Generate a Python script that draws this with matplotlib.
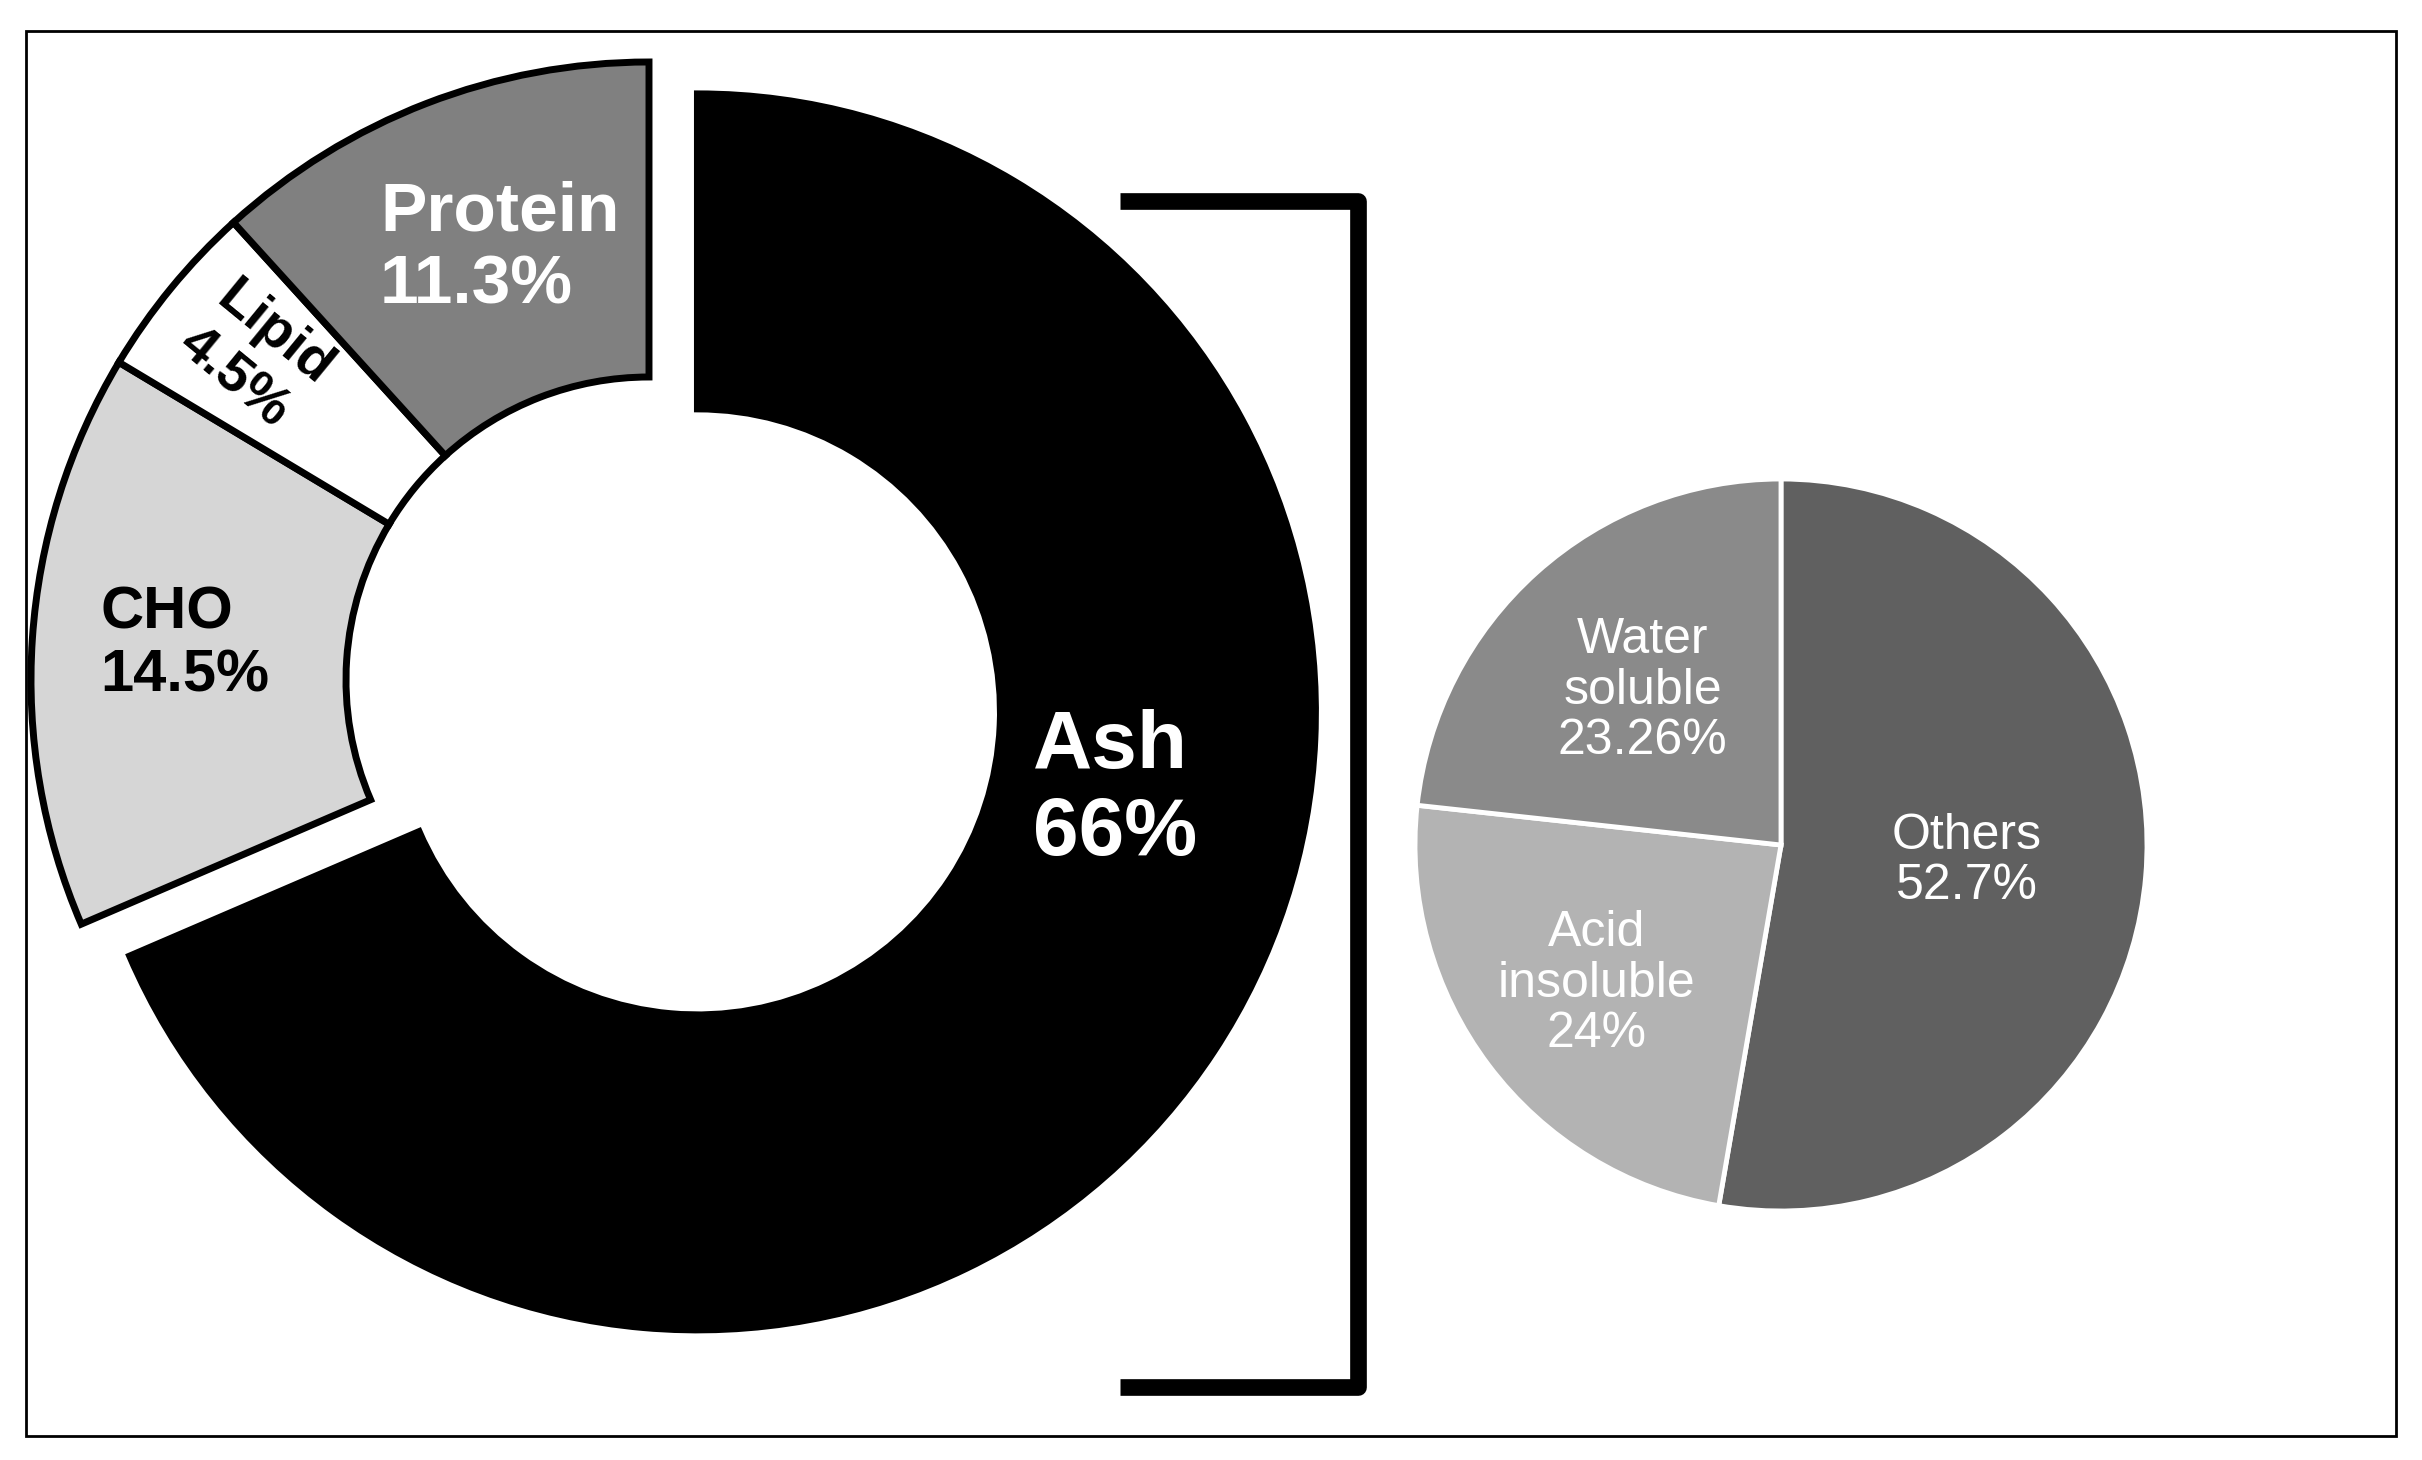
import matplotlib
matplotlib.use('Agg')
import matplotlib.pyplot as plt
import numpy as np
from matplotlib.patches import Rectangle

plt.rcParams['font.family'] = ['Liberation Sans', 'DejaVu Sans']

# whole sample composition (%), drawn clockwise from 12 o'clock
comp_labels = ['Ash', 'CHO', 'Lipid', 'Protein']
comp_values = [66, 14.5, 4.5, 11.3]
comp_colors = ['black', '#d6d6d6', 'white', '#808080']

# ash fractions (%)
ash_labels = ['Others', 'Acid\ninsoluble', 'Water\nsoluble']
ash_values = [52.7, 24, 23.26]
ash_colors = ['#606060', '#b3b3b3', '#8a8a8a']

# figure drawn in pixel units, one axes over the whole canvas
fig = plt.figure(figsize=(24.22, 14.6), dpi=100)
ax = fig.add_axes([0, 0, 1, 1])

R1 = 618
wedges, _ = ax.pie(comp_values, colors=comp_colors, startangle=90, counterclock=False,
                   center=(649, 780), radius=R1, explode=[58, 0, 0, 0],
                   wedgeprops=dict(width=315, edgecolor='black', linewidth=5))

# label placement: radius (fraction of R) and angle tweak from wedge middle
lab_r = [0.687, 0.753, 0.825, 0.738]
lab_dt = [22.7, -0.5, 0, -2]
lab_size = [59, 43, 40, 50]
lab_color = ['white', 'black', 'black', 'white']
for w, name, v, r, dt, fs, c in zip(wedges, comp_labels, comp_values, lab_r, lab_dt, lab_size, lab_color):
    mid = (w.theta1 + w.theta2) / 2
    a = np.deg2rad(mid + dt)
    cx, cy = w.center
    rot = mid - 180 if name == 'Lipid' else 0
    ax.text(cx + r * R1 * np.cos(a), cy + r * R1 * np.sin(a), f'{name}\n{v:g}%',
            ha='center', va='center', multialignment='left', fontsize=fs,
            fontweight='bold', color=c, rotation=rot, rotation_mode='anchor',
            linespacing=1.18)

R2 = 366
wedges2, _ = ax.pie(ash_values, colors=ash_colors, startangle=90, counterclock=False,
                    center=(1781, 615), radius=R2,
                    wedgeprops=dict(edgecolor='white', linewidth=3.5))
lab2_r = [0.51, 0.63, 0.566]
for w, name, v, r in zip(wedges2, ash_labels, ash_values, lab2_r):
    a = np.deg2rad((w.theta1 + w.theta2) / 2)
    cx, cy = w.center
    ax.text(cx + r * R2 * np.cos(a), cy + r * R2 * np.sin(a), f'{name}\n{v:g}%',
            ha='center', va='center', fontsize=36, color='white', linespacing=1.12)

# bracket linking ash to its breakdown
ax.plot([1120, 1358, 1358, 1120], [1259, 1259, 73, 73], color='black', lw=12,
        solid_joinstyle='round', solid_capstyle='butt')

# outer frame
ax.add_patch(Rectangle((26, 24), 2370, 1405, fill=False, lw=2, ec='black'))

ax.set_xlim(0, 2422)
ax.set_ylim(0, 1460)
ax.set_aspect('auto')
ax.axis('off')

fig.savefig('out.png', dpi=100)
